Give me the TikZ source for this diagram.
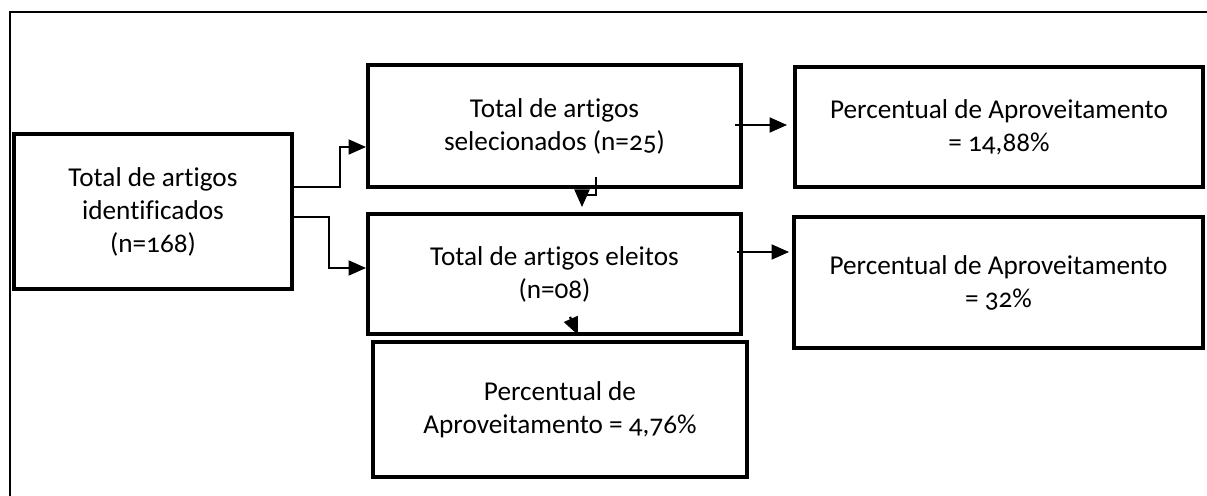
\documentclass[tikz,border=0pt]{standalone}
\usepackage{fontspec}
\setmainfont[Numbers=OldStyle,Ligatures=NoCommon]{Carlito}
\usetikzlibrary{arrows.meta,calc}

\tikzset{
  caixa/.style={draw, line width=2.2pt, align=center, inner sep=0pt,
    font=\fontsize{15.5}{18.8}\selectfont},
  seta/.style={line width=1.3pt, -{Triangle[length=10pt,width=8.5pt]}}
}

\begin{document}
\begin{tikzpicture}[x=0.02cm,y=-0.02cm]
        \useasboundingbox (0,0) rectangle (1207,496);
        \draw[line width=1.5pt] (10,496) -- (10,12) -- (1207,12);

        \node[caixa, minimum width=278*0.02cm, minimum height=155*0.02cm] (ident) at (153,211.5)
            {Total de artigos\\identificados\\(n=168)};
        \node[caixa, minimum width=373*0.02cm, minimum height=122*0.02cm] (selec) at (554.5,126)
            {Total de artigos\\selecionados (n=25)};
        \node[caixa, minimum width=373*0.02cm, minimum height=120*0.02cm] (eleit) at (554.5,274)
            {Total de artigos eleitos\\(n=08)};
        \node[caixa, minimum width=408*0.02cm, minimum height=120*0.02cm] (perc1) at (999,127)
            {Percentual de Aproveitamento\\= 14,88\%};
        \node[caixa, minimum width=409*0.02cm, minimum height=131*0.02cm] (perc2) at (998.5,282.5)
            {Percentual de Aproveitamento\\= 32\%};
        \node[caixa, minimum width=374*0.02cm, minimum height=135*0.02cm] (perc3) at (560,409.5)
            {Percentual de\\Aproveitamento = 4,76\%};

        \draw[seta] ($(ident.east)+(0,-24.5)$) -- ++(46,0) |- ($(selec.west)+(0,21)$);
        \draw[seta] ($(ident.east)+(0,5.5)$) -- ++(35,0) |- ($(eleit.west)+(0,-6)$);
        \draw[seta] ($(selec.south)+(41.5,-12)$) -- ++(0,18) -| ($(eleit.north)+(27.5,-5)$);
        \draw[seta] ($(eleit.south)+(15.5,-19)$) -- ($(eleit.south)+(23.5,-1)$);
        \draw[seta] ($(selec.east)+(-8,-1)$) -- ($(perc1.west)+(-6,-2)$);
        \draw[seta] ($(eleit.east)+(-6,-22)$) -- ($(perc2.west)+(-3,-30.5)$);
    \end{tikzpicture}
\end{document}
